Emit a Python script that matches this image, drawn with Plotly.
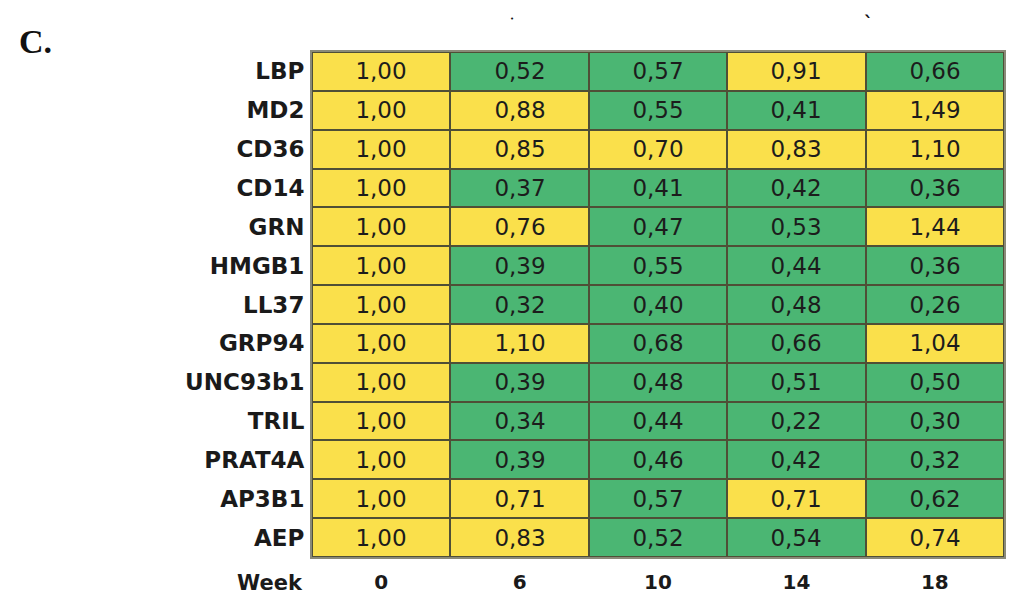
import plotly.graph_objects as go

genes = ["LBP", "MD2", "CD36", "CD14", "GRN", "HMGB1", "LL37", "GRP94",
         "UNC93b1", "TRIL", "PRAT4A", "AP3B1", "AEP"]
weeks = ["0", "6", "10", "14", "18"]

week0 = [1.00] * 13
week6 = [0.52, 0.88, 0.85, 0.37, 0.76, 0.39, 0.32, 1.10, 0.39, 0.34, 0.39, 0.71, 0.83]
week10 = [0.57, 0.55, 0.70, 0.41, 0.47, 0.55, 0.40, 0.68, 0.48, 0.44, 0.46, 0.57, 0.52]
week14 = [0.91, 0.41, 0.83, 0.42, 0.53, 0.44, 0.48, 0.66, 0.51, 0.22, 0.42, 0.71, 0.54]
week18 = [0.66, 1.49, 1.10, 0.36, 1.44, 0.36, 0.26, 1.04, 0.50, 0.30, 0.32, 0.62, 0.74]

YELLOW = "#FAE04B"
GREEN = "#4BB673"
threshold = 0.695
zmin, zmax = 0.0, 1.5
cut = (threshold - zmin) / (zmax - zmin)

cols = [week0, week6, week10, week14, week18]
z = [[cols[j][i] for j in range(len(weeks))] for i in range(len(genes))]

FONT = "DejaVu Sans"

fig = go.Figure(go.Heatmap(
    z=z, x=weeks, y=genes,
    zmin=zmin, zmax=zmax,
    colorscale=[[0, GREEN], [cut, GREEN], [cut, YELLOW], [1, YELLOW]],
    showscale=False,
    xgap=2, ygap=2,
    texttemplate="%{z:.2f}",
    textfont=dict(family=FONT, size=23, color="#1c1c1c"),
    hoverinfo="skip",
))

fig.update_layout(
    width=1008, height=596,
    margin=dict(l=304, r=10, t=44, b=39),
    paper_bgcolor="white",
    plot_bgcolor="#4f4f36",
    separators=",.",
    font=dict(family=FONT, color="#1a1a1a"),
    xaxis=dict(side="bottom", showgrid=False, zeroline=False, ticks="",
               ticklabelstandoff=6,
               tickfont=dict(family=FONT, size=20, weight="bold", color="#1a1a1a"),
               showline=True, linecolor="#8a8a78", linewidth=2, mirror=True),
    yaxis=dict(autorange="reversed", showgrid=False, zeroline=False, ticks="",
               ticklabelstandoff=1,
               tickfont=dict(family=FONT, size=23, weight="bold", color="#1a1a1a"),
               showline=True, linecolor="#8a8a78", linewidth=2, mirror=True),
    annotations=[
        dict(text="Week", xref="paper", yref="paper", x=-0.0101, y=-0.051,
             xanchor="right", yanchor="middle", showarrow=False,
             font=dict(family=FONT, size=21, weight="bold", color="#1a1a1a")),
        dict(text="C.", xref="paper", yref="paper", x=-0.427, y=1.062,
             xanchor="left", yanchor="top", showarrow=False,
             font=dict(family="Liberation Serif", size=34, weight="bold", color="#111")),
        dict(text="•", xref="paper", yref="paper", x=0.2896, y=1.066,
             xanchor="center", yanchor="middle", showarrow=False,
             font=dict(family=FONT, size=7, color="#111")),
        dict(text="ˋ", xref="paper", yref="paper", x=0.804, y=1.058,
             xanchor="center", yanchor="middle", showarrow=False,
             font=dict(family=FONT, size=18, weight="bold", color="#111")),
    ],
)

fig.write_html("out.html")
